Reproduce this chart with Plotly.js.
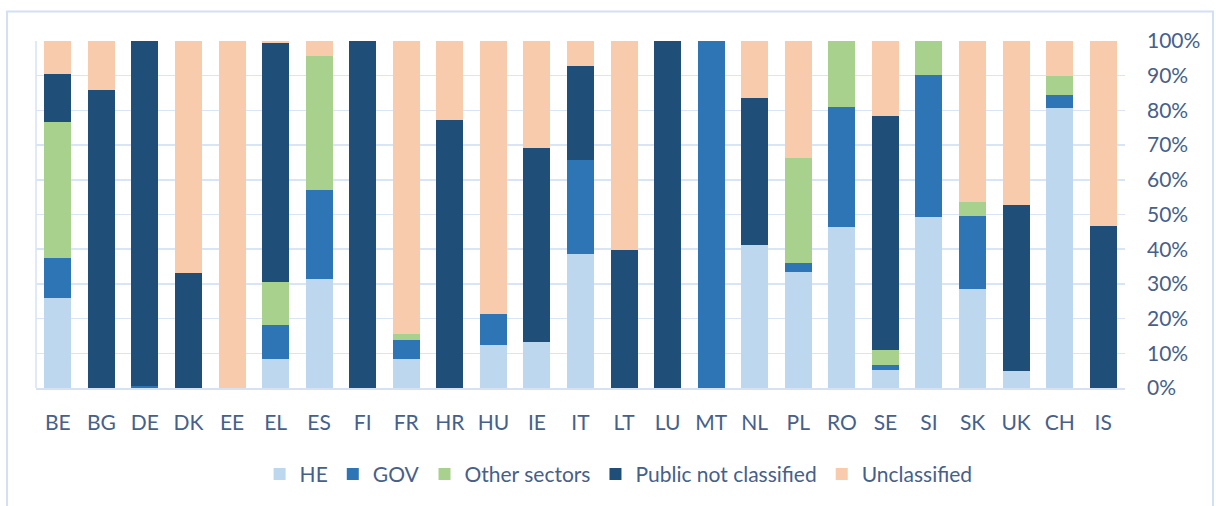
<!DOCTYPE html>
<html>
<head>
<meta charset="utf-8">
<script src="https://cdn.plot.ly/plotly-3.0.1.min.js"></script>
<style>
  html, body { margin: 0; padding: 0; background: #ffffff; }
  #chart { width: 1216px; height: 506px; }
</style>
</head>
<body>
<div id="chart"></div>
<script>
const countries = ["BE","BG","DE","DK","EE","EL","ES","FI","FR","HR","HU","IE","IT","LT","LU","MT","NL","PL","RO","SE","SI","SK","UK","CH","IS"];
const seriesNames = ["HE","GOV","Other sectors","Public not classified","Unclassified"];
const he       = [25.8, 0,   0,    0,    0,   8.5, 31.3, 0,   8.5, 0,    12.5, 13.2, 38.7, 0,    0,   0,   41.2, 33.4, 46.4, 5.2,  49.3, 28.4, 5.0,  80.6, 0];
const gov      = [11.8, 0,   0.7,  0,    0,   9.6, 25.7, 0,   5.2, 0,    8.8,  0,    27.1, 0,    0,   100, 0,    2.7,  34.5, 1.5,  40.8, 21.2, 0,    3.9,  0];
const other    = [39.2, 0,   0,    0,    0,   12.4,38.6, 0,   1.9, 0,    0,    0,    0,    0,    0,   0,   0,    30.1, 19.1, 4.3,  9.9,  4.1,  0,    5.5,  0];
const publicNC = [13.6, 85.8,99.3, 33.1, 0,   69.0,0,    100, 0,   77.3, 0,    55.9, 27.1, 39.8, 100, 0,   42.3, 0,    0,    67.3, 0,    0,    47.6, 0,    46.8];
const unclass  = [9.6,  14.2,0,    66.9, 100, 0.5, 4.4,  0,   84.4,22.7, 78.7, 30.9, 7.1,  60.2, 0,   0,   16.5, 33.8, 0,    21.7, 0,    46.3, 47.4, 10.0, 53.2];
const yTickVals = [0,10,20,30,40,50,60,70,80,90,100];
const yTickText = ["0%","10%","20%","30%","40%","50%","60%","70%","80%","90%","100%"];

const colors = ["#BDD7EE","#2E75B6","#A9D18E","#1F4E79","#F8CBAD"];
const values = [he, gov, other, publicNC, unclass];
const textColor = "#46608A";
const font = {family: "Lato, 'Open Sans', sans-serif", size: 21, color: textColor};

const data = values.map((v, i) => ({
  type: "bar",
  name: seriesNames[i],
  x: countries,
  y: v,
  marker: {color: colors[i], line: {width: 0}},
  hoverinfo: "skip"
}));

const layout = {
  width: 1216, height: 506,
  margin: {l: 36, r: 91, t: 41, b: 117},
  barmode: "stack",
  bargap: 0.38,
  paper_bgcolor: "#ffffff",
  plot_bgcolor: "#ffffff",
  font: font,
  showlegend: true,
  legend: {
    orientation: "h",
    x: 0.535, xanchor: "center",
    y: -0.245, yanchor: "middle",
    font: font,
    traceorder: "normal",
    itemclick: false
  },
  xaxis: {
    type: "category",
    showgrid: false,
    zeroline: false,
    showline: true,
    linecolor: "#D6E2F2",
    linewidth: 1.5,
    ticks: "",
    ticklabelstandoff: 15,
    tickfont: font,
    fixedrange: true
  },
  yaxis: {
    side: "right",
    range: [0, 100],
    tickvals: yTickVals,
    ticktext: yTickText,
    showgrid: true,
    gridcolor: "#D9E5F5",
    gridwidth: 1.5,
    zeroline: false,
    showline: false,
    ticks: "",
    ticklabelstandoff: 21,
    tickfont: font,
    fixedrange: true
  },
  shapes: [
    {type: "line", xref: "paper", yref: "paper", x0: 0, x1: 0, y0: 0, y1: 1,
     line: {color: "#D6E2F2", width: 1.5}, layer: "below"},
    {type: "rect", xref: "paper", yref: "paper",
     x0: -0.0266, x1: 1.0808, y0: -0.6, y1: 1.085,
     line: {color: "#D3E0F2", width: 2}, fillcolor: "rgba(0,0,0,0)", layer: "below"}
  ]
};

Plotly.newPlot("chart", data, layout, {displayModeBar: false, staticPlot: true});
</script>
</body>
</html>
